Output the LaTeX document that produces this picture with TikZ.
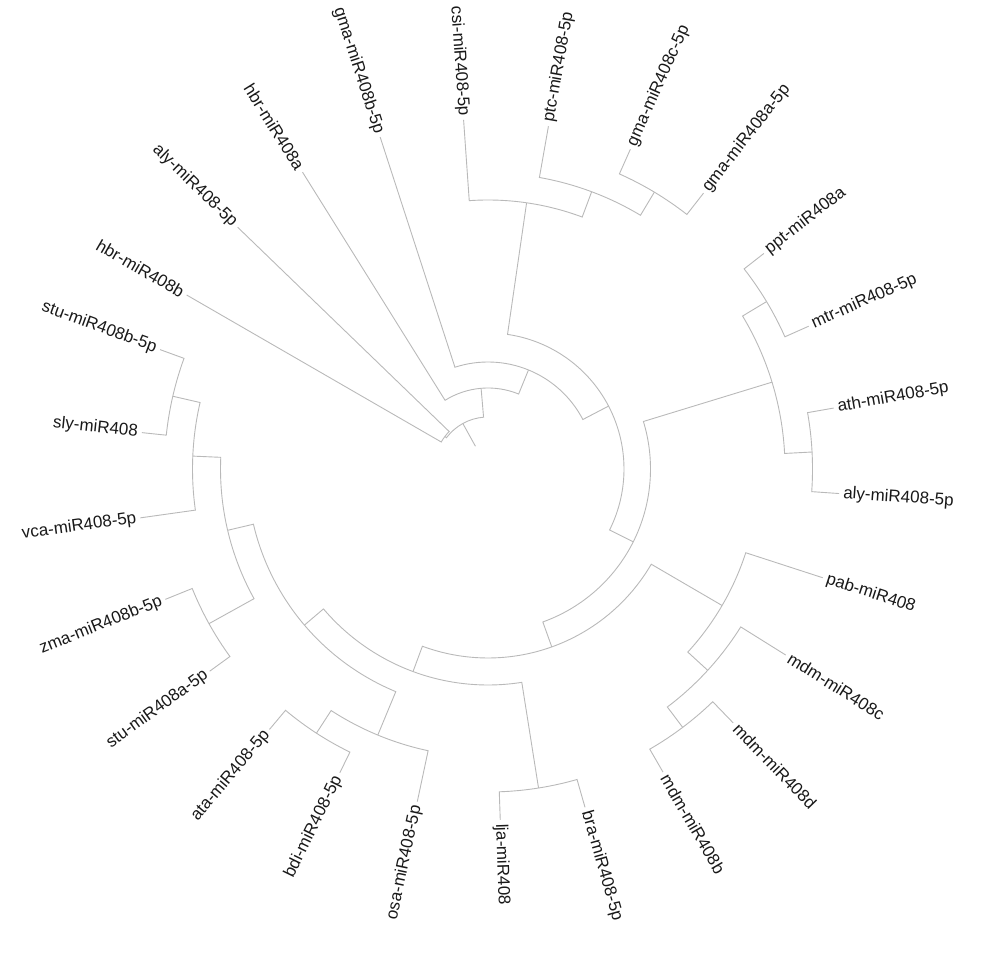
\documentclass[tikz,border=0pt]{standalone}
\usepackage{fontspec}
\setmainfont{Liberation Sans}
\newcommand\treeedge[5]{\draw[edge] (#1) arc[start angle=#2, end angle=#5, radius=#3] -- (#4);}
\begin{document}
\begin{tikzpicture}[x=1pt,y=1pt,
  edge/.style={draw=gray!55, line width=0.9pt},
  lab/.style={font=\fontsize{17}{20}\selectfont, inner sep=0pt, text=black!90}]
\useasboundingbox (0,0) rectangle (1000,958);
\begin{scope}[shift={(488,489)}]
% tips
\coordinate (t0) at (150:348);
\coordinate (t1) at (136:348);
\coordinate (t2) at (122:350);
\coordinate (t3) at (108:349);
\coordinate (t4) at (94:350);
\coordinate (t5) at (80:348);
\coordinate (t6) at (66:350);
\coordinate (t7) at (52:350);
\coordinate (t8) at (38:350);
\coordinate (t9) at (24:351);
\coordinate (t10) at (10:351);
\coordinate (t11) at (-4:352);
\coordinate (t12) at (-18:352);
\coordinate (t13) at (-32:351);
\coordinate (t14) at (-46:353);
\coordinate (t15) at (-60:350);
\coordinate (t16) at (-74:352);
\coordinate (t17) at (-88:351);
\coordinate (t18) at (-102:340);
\coordinate (t19) at (-116:338);
\coordinate (t20) at (-130:340);
\coordinate (t21) at (-144:344);
\coordinate (t22) at (-158:348);
\coordinate (t23) at (-172:351);
\coordinate (t24) at (-186:348);
\coordinate (t25) at (-200:349);
% internal nodes
\coordinate (R)  at (118.944:26);
\coordinate (Q2) at (118.944:52);
\coordinate (Q1) at (143:54);
\coordinate (P0) at (94.889:81);
\coordinate (P1) at (67.777:107);
\coordinate (A2) at (27.555:136);
\coordinate (N1) at (81.75:269);
\coordinate (N2) at (69.5:296);
\coordinate (N3) at (59:323);
\coordinate (A3) at (-26.641:162.5);
\coordinate (M1) at (17:297);
\coordinate (M2) at (31:325);
\coordinate (M3) at (3:324.5);
\coordinate (A4) at (-70.281:189);
\coordinate (K1) at (-30.25:271);
\coordinate (K2) at (-42.5:298);
\coordinate (K3) at (-53:323.5);
\coordinate (A5) at (-110.3125:216);
\coordinate (L1) at (-81:323);
\coordinate (A6) at (-139.625:241);
\coordinate (O1) at (-112.5:288);
\coordinate (O2) at (-123:315);
\coordinate (A7) at (-166.75:267.5);
\coordinate (Z1) at (-151:319);
\coordinate (A8) at (-182.5:295.5);
\coordinate (A9) at (-193:323.5);
% edges
\draw[edge] (R) -- (Q2);
\treeedge{Q2}{118.944}{52}{Q1}{143}
\treeedge{Q2}{118.944}{52}{P0}{94.889}
\treeedge{Q1}{143}{54}{t0}{150}
\treeedge{Q1}{143}{54}{t1}{136}
\treeedge{P0}{94.889}{81}{t2}{122}
\treeedge{P0}{94.889}{81}{P1}{67.777}
\treeedge{P1}{67.777}{107}{t3}{108}
\treeedge{P1}{67.777}{107}{A2}{27.555}
\treeedge{A2}{27.555}{136}{N1}{81.75}
\treeedge{A2}{27.555}{136}{A3}{-26.641}
\treeedge{N1}{81.75}{269}{t4}{94}
\treeedge{N1}{81.75}{269}{N2}{69.5}
\treeedge{N2}{69.5}{296}{t5}{80}
\treeedge{N2}{69.5}{296}{N3}{59}
\treeedge{N3}{59}{323}{t6}{66}
\treeedge{N3}{59}{323}{t7}{52}
\treeedge{A3}{-26.641}{162.5}{M1}{17}
\treeedge{A3}{-26.641}{162.5}{A4}{-70.281}
\treeedge{M1}{17}{297}{M2}{31}
\treeedge{M1}{17}{297}{M3}{3}
\treeedge{M2}{31}{325}{t8}{38}
\treeedge{M2}{31}{325}{t9}{24}
\treeedge{M3}{3}{324.5}{t10}{10}
\treeedge{M3}{3}{324.5}{t11}{-4}
\treeedge{A4}{-70.281}{189}{K1}{-30.25}
\treeedge{A4}{-70.281}{189}{A5}{-110.3125}
\treeedge{K1}{-30.25}{271}{t12}{-18}
\treeedge{K1}{-30.25}{271}{K2}{-42.5}
\treeedge{K2}{-42.5}{298}{t13}{-32}
\treeedge{K2}{-42.5}{298}{K3}{-53}
\treeedge{K3}{-53}{323.5}{t14}{-46}
\treeedge{K3}{-53}{323.5}{t15}{-60}
\treeedge{A5}{-110.3125}{216}{L1}{-81}
\treeedge{A5}{-110.3125}{216}{A6}{-139.625}
\treeedge{L1}{-81}{323}{t16}{-74}
\treeedge{L1}{-81}{323}{t17}{-88}
\treeedge{A6}{-139.625}{241}{O1}{-112.5}
\treeedge{A6}{-139.625}{241}{A7}{-166.75}
\treeedge{O1}{-112.5}{288}{t18}{-102}
\treeedge{O1}{-112.5}{288}{O2}{-123}
\treeedge{O2}{-123}{315}{t19}{-116}
\treeedge{O2}{-123}{315}{t20}{-130}
\treeedge{A7}{-166.75}{267.5}{Z1}{-151}
\treeedge{A7}{-166.75}{267.5}{A8}{-182.5}
\treeedge{Z1}{-151}{319}{t21}{-144}
\treeedge{Z1}{-151}{319}{t22}{-158}
\treeedge{A8}{-182.5}{295.5}{t23}{-172}
\treeedge{A8}{-182.5}{295.5}{A9}{-193}
\treeedge{A9}{-193}{323.5}{t24}{-186}
\treeedge{A9}{-193}{323.5}{t25}{-200}
% labels
\node[lab, rotate=330, anchor=east] (l0) at (150:352) {hbr-miR408b};
\node[lab, rotate=316, anchor=east] (l1) at (136:352) {aly-miR408-5p};
\node[lab, rotate=302, anchor=east] (l2) at (122:354) {hbr-miR408a};
\node[lab, rotate=288, anchor=east] (l3) at (108:353) {gma-miR408b-5p};
\node[lab, rotate=274, anchor=east] (l4) at (94:354) {csi-miR408-5p};
\node[lab, rotate=80, anchor=west] (l5) at (80:352) {ptc-miR408-5p};
\node[lab, rotate=66, anchor=west] (l6) at (66:354) {gma-miR408c-5p};
\node[lab, rotate=52, anchor=west] (l7) at (52:354) {gma-miR408a-5p};
\node[lab, rotate=38, anchor=west] (l8) at (38:354) {ppt-miR408a};
\node[lab, rotate=24, anchor=west] (l9) at (24:355) {mtr-miR408-5p};
\node[lab, rotate=10, anchor=west] (l10) at (10:355) {ath-miR408-5p};
\node[lab, rotate=-4, anchor=west] (l11) at (-4:356) {aly-miR408-5p};
\node[lab, rotate=-18, anchor=west] (l12) at (-18:356) {pab-miR408};
\node[lab, rotate=-32, anchor=west] (l13) at (-32:355) {mdm-miR408c};
\node[lab, rotate=-46, anchor=west] (l14) at (-46:357) {mdm-miR408d};
\node[lab, rotate=-60, anchor=west] (l15) at (-60:354) {mdm-miR408b};
\node[lab, rotate=-74, anchor=west] (l16) at (-74:356) {bra-miR408-5p};
\node[lab, rotate=-88, anchor=west] (l17) at (-88:355) {lja-miR408};
\node[lab, rotate=78, anchor=east] (l18) at (-102:344) {osa-miR408-5p};
\node[lab, rotate=64, anchor=east] (l19) at (-116:342) {bdi-miR408-5p};
\node[lab, rotate=50, anchor=east] (l20) at (-130:344) {ata-miR408-5p};
\node[lab, rotate=36, anchor=east] (l21) at (-144:348) {stu-miR408a-5p};
\node[lab, rotate=22, anchor=east] (l22) at (-158:352) {zma-miR408b-5p};
\node[lab, rotate=8, anchor=east] (l23) at (-172:355) {vca-miR408-5p};
\node[lab, rotate=-6, anchor=east] (l24) at (-186:352) {sly-miR408};
\node[lab, rotate=-20, anchor=east] (l25) at (-200:353) {stu-miR408b-5p};
\end{scope}
\end{tikzpicture}
\end{document}
